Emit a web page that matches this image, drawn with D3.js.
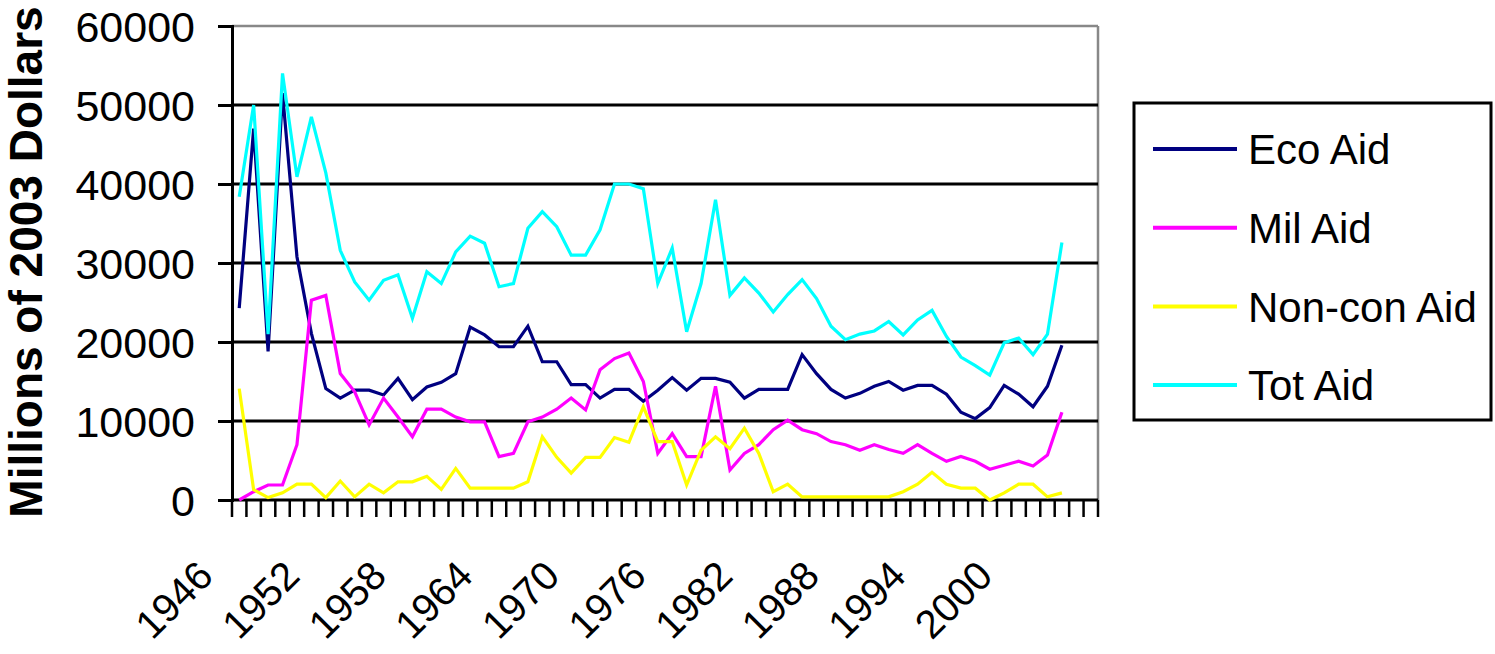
<!DOCTYPE html>
<html>
<head>
<meta charset="utf-8">
<script src="https://cdn.jsdelivr.net/npm/d3@7"></script>
<style>
  html, body { margin: 0; padding: 0; background: #fff; }
  svg { display: block; font-family: "Liberation Sans", Arial, sans-serif; }
</style>
</head>
<body>
<svg id="chart" width="1495" height="654"></svg>
<script>
// Category axis: one slot per year, 1946-2005 (data runs through 2003)
const years = d3.range(1946, 2006);
const dataYears = d3.range(1946, 2004);
const tickLabels = [1946, 1952, 1958, 1964, 1970, 1976, 1982, 1988, 1994, 2000];
const yTicks = [0, 10000, 20000, 30000, 40000, 50000, 60000];

// Aid series, millions of 2003 dollars, 1946-2003
const ecoAid = [24300, 47000, 18800, 51500, 30800, 21100, 14100, 12900, 13900, 13900,
  13300, 15400, 12700, 14300, 14900, 16000, 21900, 20900, 19400, 19400,
  22000, 17500, 17500, 14600, 14600, 12900, 14000, 14000, 12500, 13900,
  15500, 13900, 15400, 15400, 14900, 12900, 14000, 14000, 14000, 18400,
  16000, 14000, 12900, 13500, 14400, 15000, 13900, 14500, 14500, 13400,
  11100, 10300, 11700, 14500, 13400, 11800, 14400, 19600];
const milAid = [0, 1050, 1900, 1900, 7000, 25300, 25900, 16000, 13700, 9500,
  12900, 10500, 8000, 11500, 11500, 10500, 9900, 9900, 5500, 5900,
  9900, 10500, 11500, 12900, 11400, 16500, 17900, 18600, 15000, 5900,
  8400, 5500, 5500, 14400, 3800, 5900, 7000, 8900, 10100, 8900,
  8400, 7400, 7000, 6300, 7000, 6400, 5900, 7000, 5900, 4900,
  5500, 4900, 3900, 4400, 4900, 4300, 5700, 11100];
const nonconAid = [14100, 1300, 300, 900, 2000, 2000, 300, 2400, 400, 2000,
  900, 2300, 2300, 3000, 1350, 4000, 1500, 1500, 1500, 1500,
  2300, 8000, 5400, 3400, 5400, 5400, 7900, 7300, 11800, 7400,
  7400, 1900, 6300, 8000, 6500, 9100, 5900, 1050, 2000, 400,
  400, 400, 400, 400, 400, 400, 1050, 2000, 3500, 2000,
  1500, 1500, 0, 900, 2000, 2000, 400, 900];
const totAid = [38400, 50000, 21000, 54000, 40900, 48500, 41400, 31600, 27600, 25300,
  27800, 28500, 23000, 28900, 27400, 31400, 33400, 32500, 27000, 27400,
  34400, 36500, 34600, 31000, 31000, 34200, 40000, 40000, 39400, 27400,
  31900, 21300, 27400, 38000, 25900, 28100, 26200, 23800, 26000, 27900,
  25500, 22000, 20300, 21000, 21400, 22600, 20900, 22800, 24000, 20700,
  18100, 17000, 15800, 19900, 20500, 18400, 21000, 32600];

const seriesNames = ["Eco Aid", "Mil Aid", "Non-con Aid", "Tot Aid"];
const seriesColors = ["#000080", "#ff00ff", "#ffff00", "#00ffff"];
const seriesValues = [ecoAid, milAid, nonconAid, totAid];

const svg = d3.select("#chart");
const plot = { left: 232, right: 1098, top: 26, bottom: 500 };

const x = d3.scaleBand().domain(years).range([plot.left, plot.right]).padding(0);
const y = d3.scaleLinear().domain([0, 60000]).range([plot.bottom, plot.top]);
const bw = x.bandwidth();

// Plot-area frame: grey top and right edges
svg.append("line")
  .attr("x1", plot.left).attr("x2", plot.right)
  .attr("y1", y(60000)).attr("y2", y(60000))
  .attr("stroke", "#888").attr("stroke-width", 2.5);
svg.append("line")
  .attr("x1", plot.right).attr("x2", plot.right)
  .attr("y1", y(60000)).attr("y2", y(0))
  .attr("stroke", "#888").attr("stroke-width", 2.5);

// Horizontal gridlines
svg.append("g").selectAll("line")
  .data(yTicks.filter(v => v > 0 && v < 60000))
  .join("line")
  .attr("x1", plot.left).attr("x2", plot.right)
  .attr("y1", d => y(d)).attr("y2", d => y(d))
  .attr("stroke", "#000").attr("stroke-width", 3);

// Value axis
const yAxis = d3.axisLeft(y).tickValues(yTicks).tickSize(14).tickPadding(23)
  .tickFormat(d3.format("d"));
const gy = svg.append("g").attr("transform", `translate(${plot.left},0)`).call(yAxis);
gy.select(".domain").attr("stroke", "#000").attr("stroke-width", 3);
gy.selectAll(".tick line").attr("stroke", "#000").attr("stroke-width", 3);
gy.selectAll(".tick text")
  .attr("font-size", 43).attr("fill", "#000")
  .attr("font-family", "'Liberation Sans', Arial, sans-serif")
  .attr("dy", "0.36em");

// Category axis line and tick marks between categories
svg.append("line")
  .attr("x1", plot.left).attr("x2", plot.right)
  .attr("y1", y(0)).attr("y2", y(0))
  .attr("stroke", "#000").attr("stroke-width", 3);
const tickX = years.map(yr => x(yr)).concat([x(years[years.length - 1]) + bw]);
svg.append("g").selectAll("line")
  .data(tickX)
  .join("line")
  .attr("x1", d => d).attr("x2", d => d)
  .attr("y1", y(0)).attr("y2", y(0) + 17)
  .attr("stroke", "#000").attr("stroke-width", 2.5);

// Rotated year labels
svg.append("g").selectAll("text")
  .data(tickLabels)
  .join("text")
  .attr("transform", d => `translate(${x(d) + bw / 2 - 24},578) rotate(-45)`)
  .attr("text-anchor", "end")
  .attr("font-size", 40)
  .attr("fill", "#000")
  .text(d => d);

// Value axis title
svg.append("text")
  .attr("transform", "translate(42,262) rotate(-90)")
  .attr("text-anchor", "middle")
  .attr("font-size", 46)
  .attr("font-weight", "bold")
  .attr("fill", "#000")
  .text("Millions of 2003 Dollars");

// Series lines
const line = d3.line()
  .x((d, i) => x(dataYears[i]) + bw / 2)
  .y(d => y(d));
svg.append("g").selectAll("path")
  .data(seriesValues)
  .join("path")
  .attr("d", d => line(d))
  .attr("fill", "none")
  .attr("stroke", (d, i) => seriesColors[i])
  .attr("stroke-width", 3.2)
  .attr("stroke-linejoin", "miter");

// Legend
const legend = svg.append("g");
legend.append("rect")
  .attr("x", 1134).attr("y", 103).attr("width", 357).attr("height", 317)
  .attr("fill", "#fff").attr("stroke", "#000").attr("stroke-width", 3);
const items = legend.selectAll("g.item")
  .data(seriesNames)
  .join("g").attr("class", "item")
  .attr("transform", (d, i) => `translate(0,${149 + i * 78.7})`);
items.append("line")
  .attr("x1", 1153).attr("x2", 1237)
  .attr("stroke", (d, i) => seriesColors[i])
  .attr("stroke-width", 4);
items.append("text")
  .attr("x", 1248).attr("dy", "0.36em")
  .attr("font-size", 42).attr("fill", "#000")
  .text(d => d);
</script>
</body>
</html>
